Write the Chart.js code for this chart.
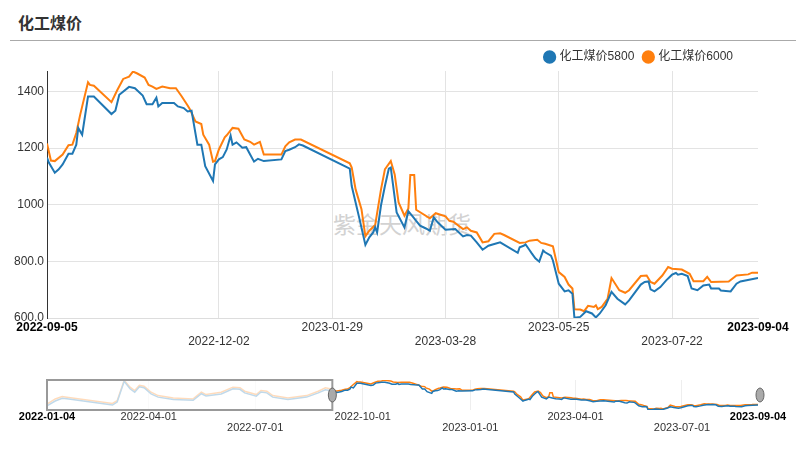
<!DOCTYPE html>
<html>
<head>
<meta charset="UTF-8">
<title>化工煤价</title>
<script src="https://cdn.jsdelivr.net/npm/chart.js"></script>
<style>
  body { margin: 0; background: #fff; }
  #wrap { position: relative; width: 806px; height: 460px; overflow: hidden; }
  #title { position: absolute; left: 18px; top: 10px; font: bold 16px 'Noto Sans CJK SC', sans-serif; color: #333; }
  #rule { position: absolute; left: 10px; top: 40px; width: 786px; border-top: 1px solid #aaa; }
  #mark { position: absolute; left: 333px; top: 206px; font: 23px 'Noto Sans CJK SC', sans-serif; color: #d2d2d2; }
  #main { position: absolute; left: 0; top: 39px; }
  #nav { position: absolute; left: 0; top: 370px; }
</style>
</head>
<body>
<div id="wrap">
  <div id="title">化工煤价</div>
  <div id="rule"></div>
  <div id="mark">紫金天风期货</div>
  <canvas id="main" width="806" height="321"></canvas>
  <canvas id="nav" width="806" height="80"></canvas>
</div>

<script>
// 化工煤价 (主图: 2022-09-05 ~ 2023-09-04)
const dates5800 = ['2022-09-05','2022-09-06','2022-09-09','2022-09-11','2022-09-13','2022-09-16','2022-09-18','2022-09-20','2022-09-21','2022-09-23',
  '2022-09-26','2022-09-29','2022-10-08','2022-10-10','2022-10-12','2022-10-17','2022-10-20','2022-10-24','2022-10-26','2022-10-29',
  '2022-10-31','2022-11-01','2022-11-03','2022-11-07','2022-11-09','2022-11-11','2022-11-14','2022-11-16','2022-11-18','2022-11-21',
  '2022-11-23','2022-11-25','2022-11-29','2022-11-30','2022-12-02','2022-12-04','2022-12-06','2022-12-08','2022-12-09','2022-12-11',
  '2022-12-14','2022-12-16','2022-12-18','2022-12-20','2022-12-22','2022-12-25','2023-01-03','2023-01-05','2023-01-07','2023-01-10',
  '2023-01-12','2023-01-14','2023-02-07','2023-02-08','2023-02-12','2023-02-15','2023-02-17','2023-02-19','2023-02-20','2023-02-21',
  '2023-02-23','2023-02-25','2023-02-27','2023-02-28','2023-03-03','2023-03-07','2023-03-09','2023-03-12','2023-03-13','2023-03-15',
  '2023-03-18','2023-03-20','2023-03-22','2023-03-24','2023-03-28','2023-04-02','2023-04-06','2023-04-08','2023-04-10','2023-04-13',
  '2023-04-16','2023-04-19','2023-04-22','2023-04-25','2023-05-04','2023-05-05','2023-05-07','2023-05-08','2023-05-10','2023-05-11',
  '2023-05-13','2023-05-15','2023-05-17','2023-05-18','2023-05-21','2023-05-22','2023-05-25','2023-05-28','2023-05-30','2023-06-01',
  '2023-06-02','2023-06-05','2023-06-08','2023-06-11','2023-06-13','2023-06-15','2023-06-18','2023-06-21','2023-06-24','2023-06-28',
  '2023-06-30','2023-07-06','2023-07-08','2023-07-10','2023-07-11','2023-07-13','2023-07-16','2023-07-19','2023-07-22','2023-07-24',
  '2023-07-25','2023-07-27','2023-07-30','2023-08-01','2023-08-04','2023-08-07','2023-08-10','2023-08-11','2023-08-15','2023-08-16',
  '2023-08-21','2023-08-24','2023-08-26','2023-09-04'];
const values5800 = [1166,1148,1113,1125,1142,1180,1180,1212,1271,1247,
  1382,1382,1320,1332,1388,1416,1411,1385,1355,1355,
  1378,1347,1359,1359,1359,1347,1341,1329,1332,1212,
  1212,1136,1084,1142,1160,1168,1195,1244,1212,1220,
  1201,1203,1177,1152,1162,1154,1160,1189,1194,1203,
  1213,1209,1127,1066,949,858,885,902,920,902,
  998,1066,1127,1131,973,920,977,952,943,926,
  916,908,955,938,912,914,888,893,891,867,
  841,855,861,867,830,850,855,860,840,830,
  811,799,838,832,820,803,721,694,698,686,
  601,604,624,616,602,616,645,692,668,648,
  662,718,727,729,701,694,709,733,753,759,
  753,756,748,704,698,715,718,704,704,697,
  694,721,729,741];

const dates6000 = ['2022-09-05','2022-09-07','2022-09-09','2022-09-13','2022-09-16','2022-09-18','2022-09-20','2022-09-22','2022-09-26','2022-09-27',
  '2022-09-29','2022-10-08','2022-10-11','2022-10-14','2022-10-17','2022-10-19','2022-10-21','2022-10-25','2022-10-27','2022-10-29',
  '2022-10-31','2022-11-03','2022-11-07','2022-11-10','2022-11-13','2022-11-16','2022-11-17','2022-11-20','2022-11-23','2022-11-24',
  '2022-11-27','2022-11-29','2022-11-30','2022-12-02','2022-12-05','2022-12-06','2022-12-09','2022-12-12','2022-12-15','2022-12-18',
  '2022-12-20','2022-12-23','2022-12-25','2023-01-03','2023-01-05','2023-01-07','2023-01-10','2023-01-13','2023-02-07','2023-02-08',
  '2023-02-10','2023-02-13','2023-02-15','2023-02-17','2023-02-20','2023-02-23','2023-02-25','2023-02-28','2023-03-02','2023-03-04',
  '2023-03-07','2023-03-09','2023-03-10','2023-03-12','2023-03-13','2023-03-20','2023-03-23','2023-03-28','2023-03-30','2023-04-01',
  '2023-04-06','2023-04-08','2023-04-10','2023-04-13','2023-04-16','2023-04-19','2023-04-22','2023-04-25','2023-04-27','2023-05-05',
  '2023-05-08','2023-05-10','2023-05-14','2023-05-16','2023-05-18','2023-05-22','2023-05-23','2023-05-25','2023-05-28','2023-05-30',
  '2023-06-01','2023-06-02','2023-06-05','2023-06-07','2023-06-09','2023-06-12','2023-06-13','2023-06-14','2023-06-16','2023-06-19',
  '2023-06-21','2023-06-25','2023-06-28','2023-06-30','2023-07-06','2023-07-09','2023-07-11','2023-07-13','2023-07-17','2023-07-20',
  '2023-07-22','2023-07-27','2023-07-31','2023-08-02','2023-08-07','2023-08-09','2023-08-11','2023-08-20','2023-08-24','2023-08-30',
  '2023-09-01','2023-09-04'];
const values6000 = [1216,1156,1154,1177,1210,1212,1253,1318,1432,1423,
  1420,1362,1405,1444,1452,1470,1464,1449,1423,1417,
  1409,1417,1411,1411,1382,1350,1339,1294,1285,1247,
  1212,1152,1154,1195,1238,1245,1271,1268,1230,1222,
  1212,1222,1177,1177,1206,1220,1230,1230,1146,1131,
  1054,984,888,908,928,1054,1125,1154,1107,1008,
  961,987,1105,1105,982,952,970,959,943,940,
  914,920,908,902,867,871,897,899,893,865,
  867,873,876,865,862,853,823,762,745,718,
  704,631,630,624,643,639,645,631,639,668,
  741,698,689,698,748,750,727,721,750,780,
  774,771,756,730,730,745,727,729,750,754,
  760,760];

// 缩略轴上的早期数据 (2022-01-04 ~ 2022-09-03)
const histDates = ['2022-01-04','2022-01-11','2022-01-17','2022-01-21','2022-03-01','2022-03-05','2022-03-11','2022-03-16','2022-03-20','2022-03-24',
  '2022-03-28','2022-04-03','2022-04-09','2022-04-22','2022-05-09','2022-05-16','2022-05-20','2022-06-02','2022-06-12','2022-06-18',
  '2022-06-22','2022-07-02','2022-07-06','2022-07-11','2022-07-16','2022-07-29','2022-08-14','2022-08-24','2022-08-30','2022-09-03'];
const hist5800 = [720,860,940,925,740,830,1440,1220,1120,1280,
  1250,1070,975,905,880,1075,1010,1070,1220,1205,
  1100,1005,1125,1100,975,905,975,1100,1190,1170];
const hist6000 = [771,921,990,969,789,870,1470,1269,1170,1320,
  1299,1119,1020,951,921,1119,1050,1119,1269,1251,
  1149,1050,1170,1149,1020,951,1020,1149,1251,1221];

const yTicks = [600, 800, 1000, 1200, 1400];
const mainTickDates = ['2022-09-05','2022-12-02','2023-01-29','2023-03-28','2023-05-25','2023-07-22','2023-09-04'];
const navTickDates = ['2022-01-04','2022-04-01','2022-07-01','2022-10-01','2023-01-01','2023-04-01','2023-07-01','2023-09-04'];

const BLUE = '#1f77b4', ORANGE = '#ff7f0e';
const toMs = d => Date.parse(d);
const fmt = v => new Date(v).toISOString().slice(0, 10);
const pts = (ds, vs) => ds.map((d, i) => ({x: toMs(d), y: vs[i]}));

Chart.defaults.font.family = "'Liberation Sans', 'Noto Sans CJK SC', sans-serif";
Chart.defaults.animation = false;

const mainMin = toMs(mainTickDates[0]), mainMax = toMs(mainTickDates[mainTickDates.length - 1]);
const edge = (v, lo, hi) => v === lo || v === hi;

// 图例往左、往下挪一点
const legendNudge = {
    id: 'legendNudge',
    afterLayout(chart) {
        const lg = chart.legend;
        lg.left -= 15; lg.right -= 15;
        lg.top += 2; lg.bottom += 2;
    }
};

new Chart(document.getElementById('main'), {
    type: 'line',
    data: {
        datasets: [
            {label: '化工煤价5800', data: pts(dates5800, values5800), borderColor: BLUE, backgroundColor: BLUE, borderWidth: 2, pointRadius: 0, tension: 0},
            {label: '化工煤价6000', data: pts(dates6000, values6000), borderColor: ORANGE, backgroundColor: ORANGE, borderWidth: 2, pointRadius: 0, tension: 0}
        ]
    },
    options: {
        responsive: false,
        layout: {padding: {left: 0, right: 48, top: 0, bottom: 0}},
        plugins: {
            tooltip: {enabled: false},
            legend: {
                align: 'end',
                labels: {usePointStyle: true, pointStyle: 'circle', boxWidth: 8, boxHeight: 8, padding: 10, color: '#333', font: {size: 12}}
            }
        },
        scales: {
            x: {
                type: 'linear', min: mainMin, max: mainMax,
                afterBuildTicks: s => { s.ticks = mainTickDates.map(d => ({value: toMs(d)})); },
                afterFit: s => { s.height = 42; },
                grid: {drawTicks: false, color: c => (c.tick && edge(c.tick.value, mainMin, mainMax)) ? 'rgba(0,0,0,0)' : '#e3e3e3'},
                border: {color: '#ddd'},
                ticks: {
                    autoSkip: false, maxRotation: 0, padding: 2,
                    color: c => (c.tick && edge(c.tick.value, mainMin, mainMax)) ? '#000' : '#333',
                    font: c => ({size: 12, weight: (c.tick && edge(c.tick.value, mainMin, mainMax)) ? 'bold' : 'normal'}),
                    callback: (v, i) => (i % 2 === 1) ? ['', fmt(v)] : fmt(v)
                }
            },
            y: {
                min: 600, max: 1472,
                afterBuildTicks: s => { s.ticks = yTicks.map(v => ({value: v})); },
                afterFit: s => { s.width = 47; },
                grid: {drawTicks: false, color: '#e3e3e3'},
                border: {color: '#333', width: 1},
                ticks: {padding: 3, color: '#333', font: {size: 12}, callback: v => v >= 1000 ? String(v) : v.toFixed(1)}
            }
        }
    },
    plugins: [legendNudge]
});

// 缩略轴
const navMin = toMs(navTickDates[0]), navMax = toMs(navTickDates[navTickDates.length - 1]);
const navLower = ['2022-07-01', '2023-01-01', '2023-07-01'];

const navShade = {
    id: 'navShade',
    afterDatasetsDraw(chart) {
        const {ctx, chartArea: a, scales: {x}} = chart;
        const xr = x.getPixelForValue(mainMin);
        ctx.save();
        ctx.fillStyle = 'rgba(255,255,255,0.72)';
        ctx.fillRect(a.left, a.top, xr - a.left, a.bottom - a.top);
        ctx.strokeStyle = '#999';
        ctx.lineWidth = 2;
        ctx.strokeRect(a.left, a.top, xr - a.left, a.bottom - a.top);
        [xr, a.right + 2].forEach(hx => {
            ctx.beginPath();
            ctx.ellipse(hx, (a.top + a.bottom) / 2, 4, 7, 0, 0, Math.PI * 2);
            ctx.fillStyle = '#aaa';
            ctx.fill();
            ctx.strokeStyle = '#666';
            ctx.lineWidth = 1;
            ctx.stroke();
        });
        ctx.restore();
    }
};

new Chart(document.getElementById('nav'), {
    type: 'line',
    data: {
        datasets: [
            {data: pts(histDates.concat(dates5800), hist5800.concat(values5800)), borderColor: BLUE, borderWidth: 1.5, pointRadius: 0, tension: 0},
            {data: pts(histDates.concat(dates6000), hist6000.concat(values6000)), borderColor: ORANGE, borderWidth: 1.5, pointRadius: 0, tension: 0}
        ]
    },
    options: {
        responsive: false,
        layout: {padding: {left: 47, right: 48, top: 10, bottom: 0}},
        plugins: {legend: {display: false}, tooltip: {enabled: false}},
        scales: {
            x: {
                type: 'linear', min: navMin, max: navMax,
                afterBuildTicks: s => { s.ticks = navTickDates.map(d => ({value: toMs(d)})); },
                afterFit: s => { s.height = 40; },
                grid: {drawTicks: false, color: c => (c.tick && edge(c.tick.value, navMin, navMax)) ? 'rgba(0,0,0,0)' : '#eee'},
                border: {display: false},
                ticks: {
                    autoSkip: false, maxRotation: 0, padding: 1,
                    color: c => (c.tick && edge(c.tick.value, navMin, navMax)) ? '#000' : '#333',
                    font: c => ({size: 11, lineHeight: 1.05, weight: (c.tick && edge(c.tick.value, navMin, navMax)) ? 'bold' : 'normal'}),
                    callback: v => navLower.includes(fmt(v)) ? ['', fmt(v)] : fmt(v)
                }
            },
            y: {display: false, min: 595, max: 1480}
        }
    },
    plugins: [navShade]
});
</script>
</body>
</html>
